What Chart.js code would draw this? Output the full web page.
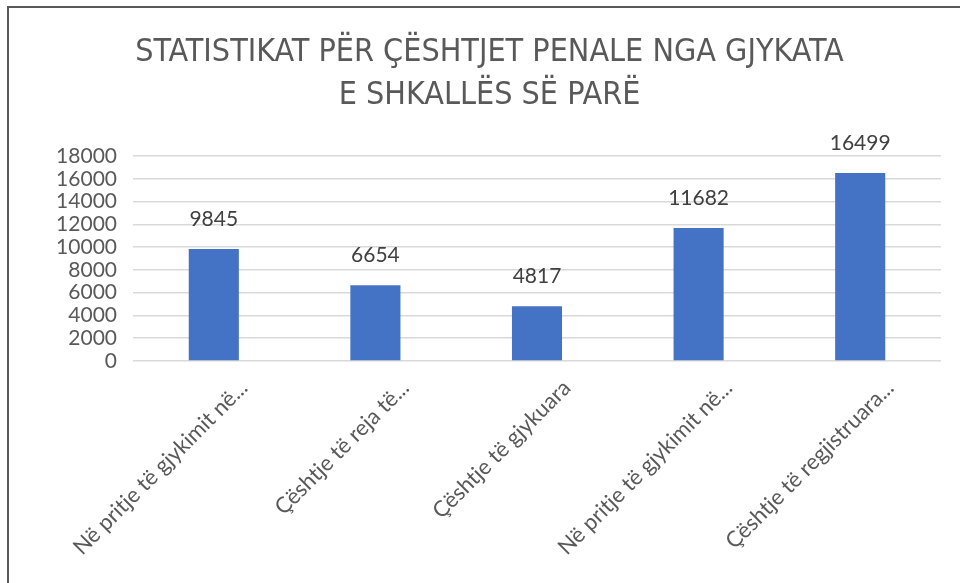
<!DOCTYPE html>
<html>
<head>
<meta charset="utf-8">
<script src="https://cdn.jsdelivr.net/npm/chart.js@4.4.0/dist/chart.umd.min.js"></script>
<style>
  html, body { margin: 0; padding: 0; background: #fff; }
  #wrap { position: relative; width: 960px; height: 583px; overflow: hidden; }
  #frame { position: absolute; left: 7px; top: 6px; width: 960px; height: 600px;
           border-top: 2px solid #5a5a5a; border-left: 2px solid #5a5a5a; }
  canvas { position: absolute; left: 0; top: 0; }
</style>
</head>
<body>
<div id="wrap">
  <div id="frame"></div>
  <canvas id="chart" width="960" height="583"></canvas>
</div>
<script>
const titleLines = ['STATISTIKAT PËR ÇËSHTJET PENALE NGA GJYKATA', 'E SHKALLËS SË PARË'];
const categories = [
  'Në pritje të gjykimit në...',
  'Çështje të reja të...',
  'Çështje të gjykuara',
  'Në pritje të gjykimit në...',
  'Çështje të regjistruara...'
];
const values = [9845, 6654, 4817, 11682, 16499];
const yMin = 0, yMax = 18000, yStep = 2000;

const textGrey = '#595959';

// value labels above the bars
const valueLabels = {
  id: 'valueLabels',
  afterDatasetsDraw(chart) {
    const ctx = chart.ctx;
    const meta = chart.getDatasetMeta(0);
    ctx.save();
    ctx.font = '21px Lato';
    ctx.fillStyle = '#404040';
    ctx.textAlign = 'center';
    ctx.textBaseline = 'middle';
    meta.data.forEach((bar, i) => {
      ctx.fillText(String(values[i]), bar.x, bar.y - 30);
    });
    ctx.restore();
  }
};

new Chart(document.getElementById('chart'), {
  type: 'bar',
  data: {
    labels: categories,
    datasets: [{
      data: values,
      backgroundColor: '#4472C4',
      borderWidth: 0,
      barPercentage: 0.31,
      categoryPercentage: 1
    }]
  },
  options: {
    responsive: false,
    animation: false,
    layout: { padding: { left: 38, right: 19, top: 0, bottom: 0 } },
    plugins: {
      legend: { display: false },
      tooltip: { enabled: false },
      title: {
        display: true,
        text: titleLines,
        color: textGrey,
        font: { family: "'DejaVu Sans Condensed', Lato", size: 32, weight: 'normal', lineHeight: '43px' },
        padding: { top: 31, bottom: 39 }
      }
    },
    scales: {
      x: {
        grid: { display: false },
        border: { display: false },
        ticks: {
          color: textGrey,
          font: { family: 'Lato', size: 22 },
          minRotation: 45,
          maxRotation: 45,
          autoSkip: false,
          labelOffset: 30,
          padding: 6
        },
        afterFit(scale) { scale.height = 222; }
      },
      y: {
        min: yMin,
        max: yMax,
        grid: { color: '#d9d9d9', lineWidth: 1.5, drawTicks: false },
        border: { display: false },
        ticks: {
          stepSize: yStep,
          autoSkip: false,
          color: textGrey,
          font: { family: 'Lato', size: 21 },
          padding: 16,
          callback: (v) => String(v)
        },
        afterFit(scale) { scale.width = 95; }
      }
    }
  },
  plugins: [valueLabels]
});
</script>
</body>
</html>
